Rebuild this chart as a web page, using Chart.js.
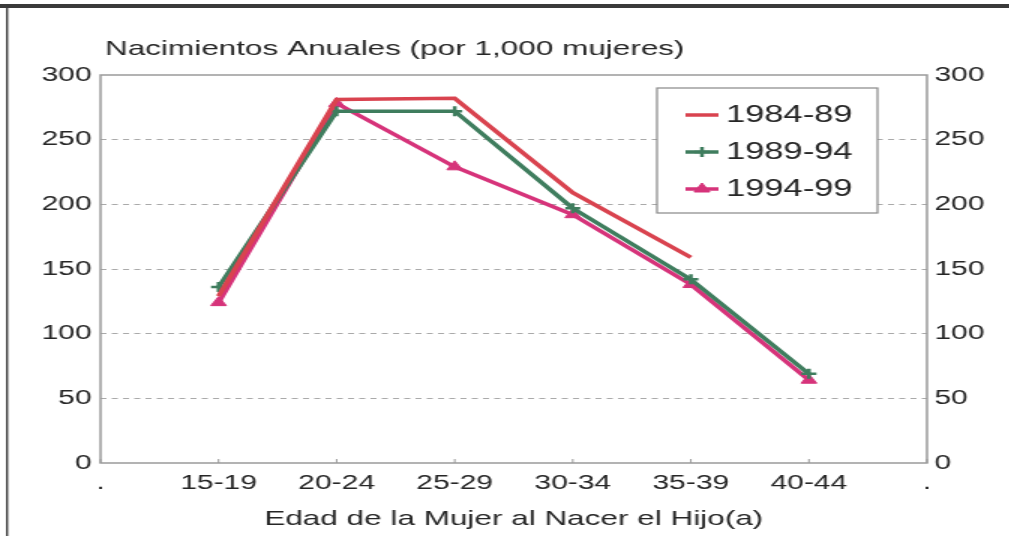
<!DOCTYPE html>
<html>
<head>
<meta charset="utf-8">
<script src="https://cdn.jsdelivr.net/npm/chart.js@4.4.0/dist/chart.umd.min.js"></script>
<style>
  html, body { margin: 0; padding: 0; background: #fff; overflow: hidden; }
  /* the scanned original is stretched sideways, so the canvas is too */
  #wrap { width: 673px; height: 536px; transform: scaleX(1.5); transform-origin: 0 0; }
</style>
</head>
<body>
<div id="wrap"><canvas id="myChart" width="673" height="536"></canvas></div>
<script>
const ageGroups = [".", "15-19", "20-24", "25-29", "30-34", "35-39", "40-44", "."];
const births8489 = [null, 129, 281, 282, 209, 159, null, null];
const births8994 = [null, 136, 272, 272, 197, 142, 69, null];
const births9499 = [null, 124, 278, 229, 192, 138, 64, null];
const seriesNames = ["1984-89", "1989-94", "1994-99"];

const chartTitle = "Nacimientos Anuales (por 1,000 mujeres)";
const xTitle = "Edad de la Mujer al Nacer el Hijo(a)";

const FONT = "'Liberation Sans', Arial, sans-serif";
const TEXT = "#262626";

const decor = {
  id: "decor",
  beforeDatasetsDraw(chart) {
    const { ctx, chartArea: a } = chart;
    ctx.save();
    ctx.strokeStyle = "#9a9a9a";
    ctx.lineWidth = 1.5;
    ctx.strokeRect(a.left, a.top, a.right - a.left, a.bottom - a.top);
    const xs = chart.scales.x;
    ctx.lineWidth = 1;
    xs.ticks.forEach((t, i) => {
      const px = xs.getPixelForTick(i);
      ctx.beginPath();
      ctx.moveTo(px, a.bottom);
      ctx.lineTo(px, a.bottom - 4);
      ctx.stroke();
    });
    ctx.restore();
  },
  afterDraw(chart) {
    const { ctx, chartArea: a } = chart;
    ctx.save();
    // outer frame
    ctx.fillStyle = "#3a3a3a";
    ctx.fillRect(0, 4, chart.width, 4);
    ctx.fillRect(4, 4, 1.4, chart.height);

    // title
    ctx.fillStyle = TEXT;
    ctx.font = "21px " + FONT;
    ctx.textBaseline = "middle";
    ctx.fillText(chartTitle, a.left + 3, 49);

    // legend box inside the plot
    const bx = a.right - 180, by = a.top + 13, bw = 147, bh = 125;
    ctx.fillStyle = "#fff";
    ctx.fillRect(bx, by, bw, bh);
    ctx.strokeStyle = "#888";
    ctx.lineWidth = 1.2;
    ctx.strokeRect(bx, by, bw, bh);

    chart.data.datasets.forEach((ds, i) => {
      const y = by + 27 + i * 37;
      ctx.strokeStyle = ds.borderColor;
      ctx.fillStyle = ds.borderColor;
      ctx.lineWidth = 3.5;
      ctx.beginPath();
      ctx.moveTo(bx + 19, y);
      ctx.lineTo(bx + 41, y);
      ctx.stroke();
      if (ds.pointRadius > 0) {
        ctx.lineWidth = ds.pointBorderWidth || 2;
        Chart.helpers.drawPoint(ctx, {
          pointStyle: ds.pointStyle, radius: ds.pointRadius,
          borderWidth: ds.pointBorderWidth || 2, rotation: 0
        }, bx + 30, y);
      }
      ctx.fillStyle = TEXT;
      ctx.font = "23px " + FONT;
      ctx.textBaseline = "middle";
      ctx.fillText(seriesNames[i], bx + 46, y + 1);
    });
    ctx.restore();
  }
};

new Chart(document.getElementById("myChart"), {
  type: "line",
  data: {
    labels: ageGroups,
    datasets: [
      {
        label: seriesNames[0],
        data: births8489,
        borderColor: "#d9434f",
        backgroundColor: "#d9434f",
        borderWidth: 3.5,
        pointRadius: 0,
        tension: 0
      },
      {
        label: seriesNames[1],
        data: births8994,
        borderColor: "#3f7d5e",
        backgroundColor: "#3f7d5e",
        borderWidth: 3.5,
        pointStyle: "cross",
        pointRadius: 5,
        pointBorderWidth: 2.5,
        tension: 0
      },
      {
        label: seriesNames[2],
        data: births9499,
        borderColor: "#d6337a",
        backgroundColor: "#d6337a",
        borderWidth: 3.5,
        pointStyle: "triangle",
        pointRadius: 6,
        pointBorderWidth: 1,
        tension: 0
      }
    ]
  },
  options: {
    responsive: false,
    animation: false,
    layout: { padding: { top: 75, left: 0, right: 0, bottom: 0 } },
    plugins: {
      legend: { display: false },
      title: { display: false },
      tooltip: { enabled: false }
    },
    scales: {
      x: {
        offset: false,
        grid: { display: false, drawTicks: false },
        border: { display: false },
        ticks: { color: TEXT, font: { family: FONT, size: 20 }, padding: 8, autoSkip: false, maxRotation: 0 },
        title: { display: true, text: xTitle, color: TEXT, font: { family: FONT, size: 21 }, padding: { top: 10, bottom: 4 } },
        afterFit(scale) { scale.height = 73; }
      },
      y: {
        position: "left",
        min: 0,
        max: 300,
        ticks: { stepSize: 50, color: TEXT, font: { family: FONT, size: 20 }, padding: 6 },
        grid: {
          drawTicks: false,
          color: (c) => (c.tick && (c.tick.value === 0 || c.tick.value === 300)) ? "rgba(0,0,0,0)" : "#aaa",
          lineWidth: 1
        },
        border: { display: false, dash: [4, 3.5] },
        afterFit(scale) { scale.width = 67; }
      },
      y2: {
        position: "right",
        min: 0,
        max: 300,
        ticks: { stepSize: 50, color: TEXT, font: { family: FONT, size: 20 }, padding: 5 },
        grid: { display: false, drawTicks: false },
        border: { display: false },
        afterFit(scale) { scale.width = 55; }
      }
    }
  },
  plugins: [decor]
});
</script>
</body>
</html>
